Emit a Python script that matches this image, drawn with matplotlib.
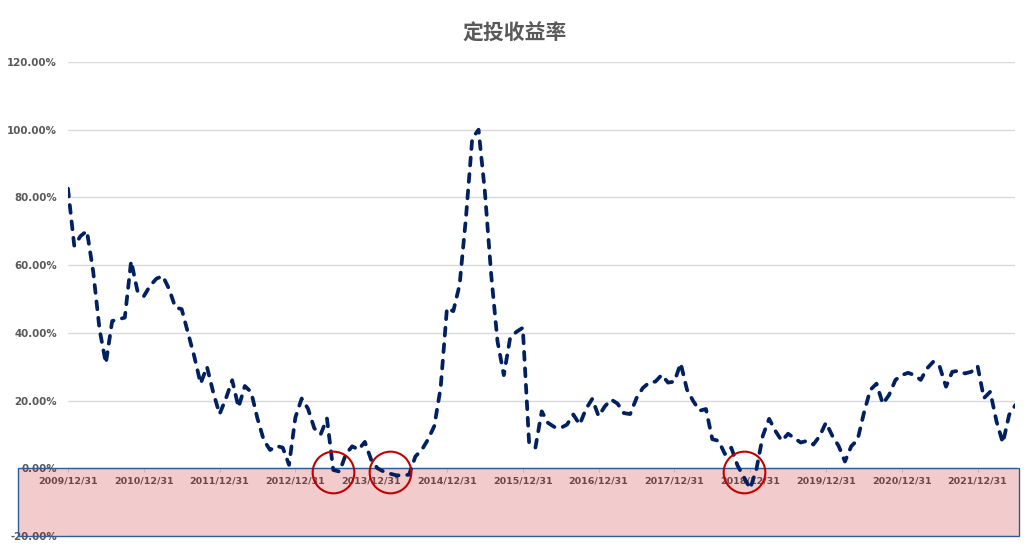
import matplotlib
matplotlib.use('Agg')
import matplotlib.pyplot as plt
import matplotlib.transforms as mtransforms
from matplotlib.patches import Rectangle
import numpy as np

plt.rcParams['font.family'] = ['DejaVu Sans', 'Noto Sans CJK SC']

# 月度定投收益率 (%), 2009/12 - 2022/06
rates = [
    82.6, 65.7, 68.6, 70.1, 58.0, 41.0, 31.0, 43.5, 44.0, 44.5, 61.2, 52.4,
    50.8, 53.9, 56.0, 56.8, 53.0, 47.5, 47.0, 40.0, 33.0, 25.0, 30.0, 22.4,
    16.0, 20.6, 26.0, 18.0, 24.3, 22.5, 14.7, 8.3, 5.4, 6.6, 6.1, 1.0,
    15.0, 20.6, 17.6, 11.8, 10.0, 14.7, -0.5, -1.0, 4.2, 6.5, 5.5, 7.8,
    2.5, 0.0, -1.0, -1.6, -2.1, -2.1, -1.9, 3.5, 5.4, 8.5, 12.5, 23.8,
    47.3, 46.4, 54.2, 73.9, 97.4, 100.0, 81.7, 57.2, 37.5, 27.5, 38.5, 40.3,
    41.5, 7.6, 6.1, 16.8, 13.4, 12.2, 11.9, 12.9, 15.9, 12.9, 17.5, 20.5,
    15.4, 18.3, 20.3, 19.1, 16.3, 16.0, 20.7, 23.7, 25.3, 25.6, 27.6, 25.3,
    25.6, 31.0, 23.2, 19.8, 17.0, 17.5, 8.6, 8.1, 4.2, 6.1, 0.8, -2.6,
    -6.0, -0.2, 9.6, 14.6, 11.0, 8.1, 10.2, 8.9, 7.6, 8.1, 7.0, 9.5,
    13.5, 9.6, 6.6, 2.0, 6.5, 8.4, 16.3, 23.1, 25.0, 19.0, 21.7, 26.1,
    27.5, 28.2, 27.5, 26.1, 29.5, 31.5, 30.0, 24.1, 28.5, 28.8, 28.0, 28.5,
    30.2, 20.7, 22.6, 13.8, 7.5, 15.8, 18.7,
]
tick_labels = ['2009/12/31', '2010/12/31', '2011/12/31', '2012/12/31',
               '2013/12/31', '2014/12/31', '2015/12/31', '2016/12/31',
               '2017/12/31', '2018/12/31', '2019/12/31', '2020/12/31',
               '2021/12/31']
circled = [42, 51, 107]  # 亏损区间

fig = plt.figure(figsize=(10.36, 5.49), dpi=100)
ax = fig.add_axes([0.0656, 0.0237, 0.9146, 0.8634])

# spine position first, it resets the ticks
for s in ['top', 'right', 'left']:
    ax.spines[s].set_visible(False)
ax.spines['bottom'].set_position(('data', 0))
ax.spines['bottom'].set_color('#D9D9D9')

x = np.arange(len(rates))
ax.plot(x, rates, color='#002060', lw=2.7, dashes=(2.1, 2.3),
        dash_capstyle='round', zorder=6)

ax.set_xlim(0, len(rates) - 1)
ax.set_ylim(-20, 120)
yt = np.arange(-20, 121, 20)
ax.set_yticks(yt)
ax.set_yticklabels([f'{v:.2f}%' for v in yt])
ax.set_xticks(np.arange(0, len(rates), 12)[:len(tick_labels)])
ax.set_xticklabels(tick_labels)
ax.tick_params(axis='y', length=0, pad=8, labelsize=7.4, labelcolor='#595959')
ax.tick_params(axis='x', length=3, color='#D9D9D9', pad=3, labelsize=6.8,
               labelcolor='#595959')
for t in ax.get_xticklabels() + ax.get_yticklabels():
    t.set_fontweight('bold')
ax.grid(axis='y', color='#D9D9D9', lw=1)
ax.set_axisbelow(True)

# 负收益区域
trans = mtransforms.blended_transform_factory(fig.transFigure, ax.transData)
ax.add_patch(Rectangle((18 / 1036, -20), 1001 / 1036, 20, transform=trans,
                       facecolor=(0.753, 0, 0, 0.2), edgecolor='#2E5C9A',
                       lw=1, clip_on=False, zorder=5))

ax.plot(circled, [-1.2] * len(circled), 'o', ms=30, mfc='none',
        mec='#C00000', mew=1.5, clip_on=False, zorder=7)

fig.text(0.497, 1 - 33 / 549, '定投收益率', ha='center', va='center',
         fontsize=15, fontweight='bold', color='#595959',
         family='Noto Sans CJK SC')

fig.savefig('out.png', dpi=100)
